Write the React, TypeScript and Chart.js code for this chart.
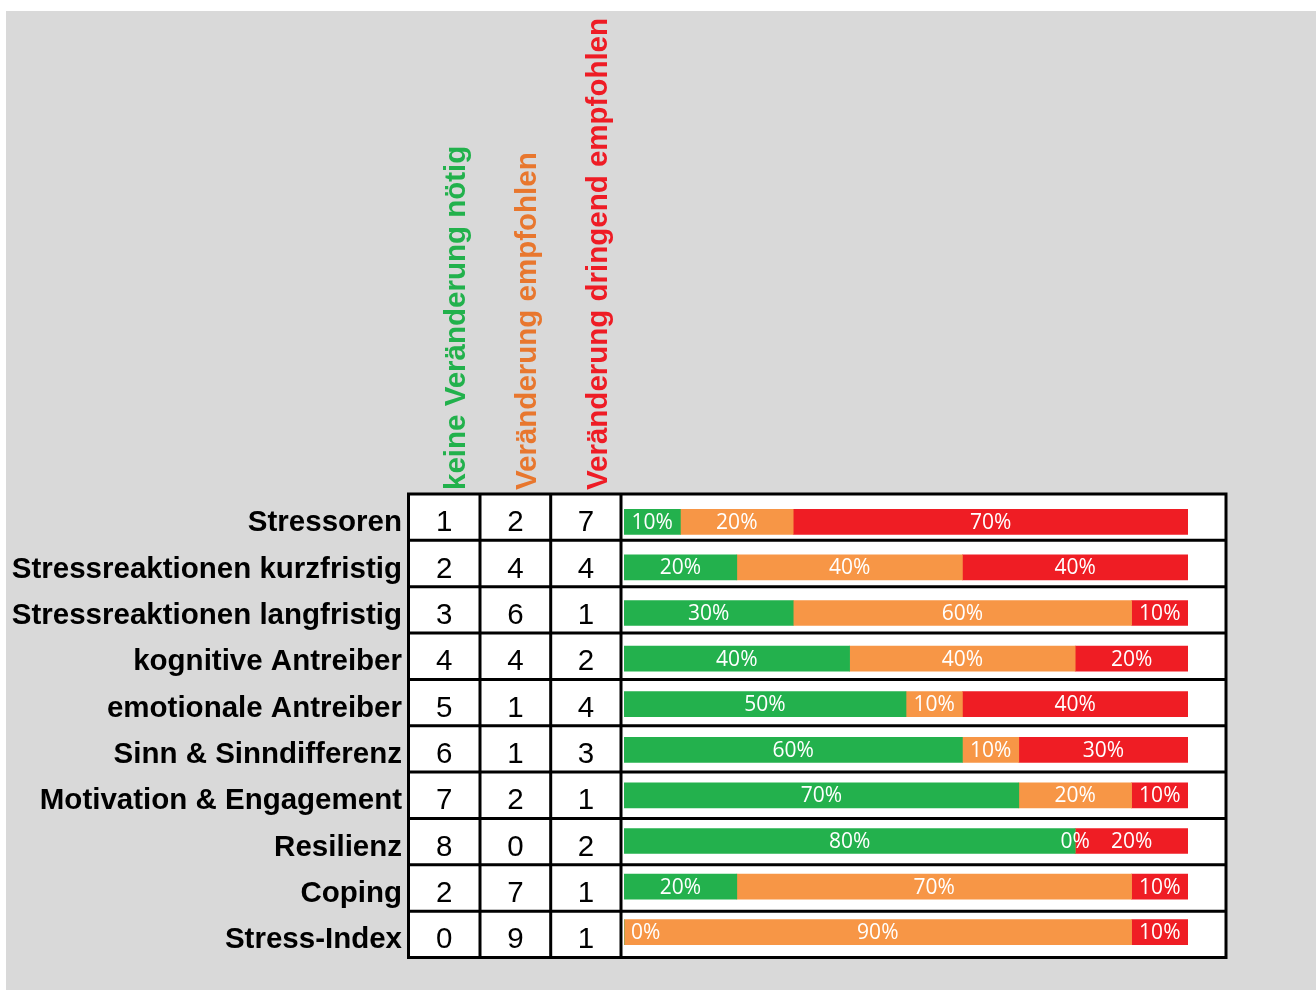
import React, { useEffect, useRef } from "react";
import { Chart, registerables } from "chart.js";

Chart.register(...registerables);

const W = 1316;
const H = 990;

const categories = [
  "Stressoren",
  "Stressreaktionen kurzfristig",
  "Stressreaktionen langfristig",
  "kognitive Antreiber",
  "emotionale Antreiber",
  "Sinn & Sinndifferenz",
  "Motivation & Engagement",
  "Resilienz",
  "Coping",
  "Stress-Index",
];

const headerLabels = [
  "keine Veränderung nötig",
  "Veränderung empfohlen",
  "Veränderung dringend empfohlen",
];

const countsGreen = [1, 2, 3, 4, 5, 6, 7, 8, 2, 0];
const countsOrange = [2, 4, 6, 4, 1, 1, 2, 0, 7, 9];
const countsRed = [7, 4, 1, 2, 4, 3, 1, 2, 1, 1];

const pctGreen = [10, 20, 30, 40, 50, 60, 70, 80, 20, 0];
const pctOrange = [20, 40, 60, 40, 10, 10, 20, 0, 70, 90];
const pctRed = [70, 40, 10, 20, 40, 30, 10, 20, 10, 10];

const BAR_COLORS = ["#23b14d", "#f79646", "#ef1d24"];
const HEADER_COLORS = ["#22b14c", "#e8772e", "#ee1c25"];

const TABLE = {
  left: 408.5,
  cols: [480, 550.7, 621],
  right: 1226,
  top: 494,
  bottom: 957.5,
};
const COL_CENTERS = [444.3, 515.4, 586];
const LABEL_RIGHT = 402;

const tablePlugin = {
  id: "tablePlugin",
  beforeDraw(chart: any) {
    const ctx = chart.ctx as CanvasRenderingContext2D;
    ctx.save();
    ctx.fillStyle = "#ffffff";
    ctx.fillRect(0, 0, W, H);
    ctx.fillStyle = "#d9d9d9";
    ctx.fillRect(6, 11, W - 6, H - 11);
    ctx.fillStyle = "#ffffff";
    ctx.fillRect(TABLE.left, TABLE.top, TABLE.right - TABLE.left, TABLE.bottom - TABLE.top);
    ctx.strokeStyle = "#000000";
    ctx.lineWidth = 3;
    ctx.strokeRect(TABLE.left, TABLE.top, TABLE.right - TABLE.left, TABLE.bottom - TABLE.top);
    ctx.beginPath();
    for (const x of TABLE.cols) {
      ctx.moveTo(x, TABLE.top);
      ctx.lineTo(x, TABLE.bottom);
    }
    const n = categories.length;
    const step = (TABLE.bottom - TABLE.top) / n;
    for (let i = 1; i < n; i++) {
      const y = TABLE.top + i * step;
      ctx.moveTo(TABLE.left, y);
      ctx.lineTo(TABLE.right, y);
    }
    ctx.stroke();
    ctx.restore();
  },
  afterDatasetsDraw(chart: any) {
    const ctx = chart.ctx as CanvasRenderingContext2D;
    const area = chart.chartArea;
    ctx.save();
    ctx.font = '21px "Open Sans"';
    ctx.fillStyle = "#ffffff";
    ctx.textAlign = "center";
    ctx.textBaseline = "middle";
    chart.data.datasets.forEach((ds: any, di: number) => {
      const meta = chart.getDatasetMeta(di);
      meta.data.forEach((el: any, i: number) => {
        const p = el.getProps(["x", "base", "y"], true);
        const v = ds.data[i];
        const text = v + "%";
        const tw = ctx.measureText(text).width;
        let cx = (p.x + p.base) / 2;
        cx = Math.max(cx, area.left + 7 + tw / 2);
        ctx.fillText(text, cx, p.y + 1);
      });
    });
    ctx.restore();
  },
  afterDraw(chart: any) {
    const ctx = chart.ctx as CanvasRenderingContext2D;
    const n = categories.length;
    const step = (TABLE.bottom - TABLE.top) / n;
    ctx.save();
    ctx.fillStyle = "#000000";
    ctx.textBaseline = "middle";
    // category labels
    ctx.font = 'bold 29.5px "Liberation Sans"';
    ctx.textAlign = "right";
    categories.forEach((label, i) => {
      const y = TABLE.top + (i + 0.5) * step + 6;
      ctx.fillText(label, LABEL_RIGHT, y);
    });
    // counts
    ctx.font = '29.5px "Liberation Sans"';
    ctx.textAlign = "center";
    const cols = [countsGreen, countsOrange, countsRed];
    categories.forEach((_, i) => {
      const y = TABLE.top + (i + 0.5) * step + 6;
      cols.forEach((arr, c) => {
        ctx.fillText(String(arr[i]), COL_CENTERS[c], y);
      });
    });
    // rotated headers
    ctx.font = 'bold 29.5px "Liberation Sans"';
    ctx.textAlign = "left";
    ctx.textBaseline = "alphabetic";
    headerLabels.forEach((label, c) => {
      ctx.save();
      ctx.translate(COL_CENTERS[c] + 21, 490);
      ctx.rotate(-Math.PI / 2);
      ctx.fillStyle = HEADER_COLORS[c];
      ctx.fillText(label, 0, 0);
      ctx.restore();
    });
    ctx.restore();
  },
};

export default function App() {
  const ref = useRef<HTMLCanvasElement | null>(null);

  useEffect(() => {
    if (!ref.current) return;
    const chart = new Chart(ref.current, {
      type: "bar",
      data: {
        labels: categories,
        datasets: [
          { label: headerLabels[0], data: pctGreen, backgroundColor: BAR_COLORS[0] },
          { label: headerLabels[1], data: pctOrange, backgroundColor: BAR_COLORS[1] },
          { label: headerLabels[2], data: pctRed, backgroundColor: BAR_COLORS[2] },
        ],
      },
      options: {
        indexAxis: "y",
        animation: false,
        responsive: false,
        devicePixelRatio: 1,
        layout: { padding: { left: 624, right: W - 1188, top: 499, bottom: H - 955 } },
        datasets: { bar: { barThickness: 25, borderWidth: 0 } },
        plugins: {
          legend: { display: false },
          tooltip: { enabled: false },
          title: { display: false },
        },
        scales: {
          x: { stacked: true, min: 0, max: 100, display: false },
          y: { stacked: true, display: false },
        },
      },
      plugins: [tablePlugin],
    });
    return () => chart.destroy();
  }, []);

  return (
    <div style={{ position: "absolute", left: 0, top: 0, width: W, height: H }}>
      <canvas ref={ref} width={W} height={H} style={{ display: "block" }} />
    </div>
  );
}
